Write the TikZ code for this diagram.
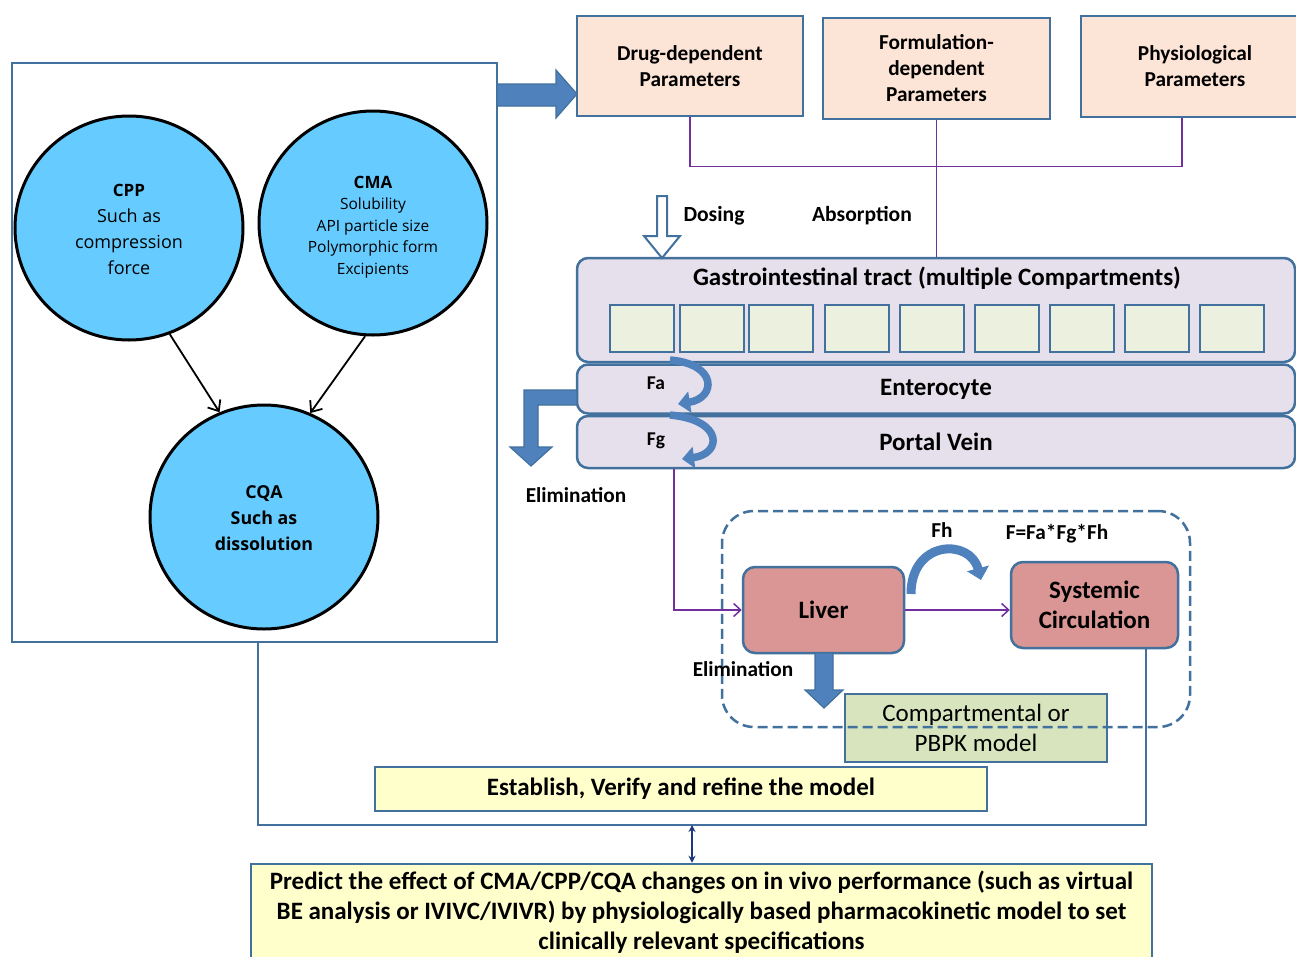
\documentclass[tikz,border=0pt]{standalone}
\usepackage{fontspec}
\setmainfont{Carlito}
\newfontfamily\osans{Open Sans}
\usetikzlibrary{arrows.meta,shapes.geometric}
\definecolor{boxblue}{HTML}{41719C}
\definecolor{peach}{HTML}{FCE4D6}
\definecolor{lav}{HTML}{E5E0EC}
\definecolor{cgreen}{HTML}{EBF1DE}
\definecolor{rose}{HTML}{D99694}
\definecolor{mgreen}{HTML}{D7E4BD}
\definecolor{lyellow}{HTML}{FFFFCC}
\definecolor{cyanc}{HTML}{66CCFF}
\definecolor{arrowblue}{HTML}{4F81BD}
\definecolor{purp}{HTML}{7030A0}
\definecolor{navy}{HTML}{1F3A7A}
\tikzset{
  pbox/.style={draw=boxblue, line width=2.5pt, fill=peach, align=center, font=\bfseries\fontsize{21.3}{26}\selectfont, inner sep=0pt},
  layer/.style={draw=boxblue, line width=2.5pt, fill=lav, rounded corners=11pt, inner sep=0pt},
  comp/.style={draw=boxblue, line width=2pt, fill=cgreen, minimum width=64pt, minimum height=47pt, inner sep=0pt},
  circ/.style={ellipse, draw=black, line width=3pt, fill=cyanc, minimum width=228pt, minimum height=224pt, inner sep=0pt},
  ctext/.style={align=center, inner sep=0pt},
  organ/.style={draw=boxblue, line width=2.5pt, fill=rose, rounded corners=12pt, align=center, inner sep=0pt, font=\bfseries\fontsize{25}{30}\selectfont},
  ybox/.style={draw=boxblue, line width=2.5pt, fill=lyellow, align=center, inner sep=0pt, font=\bfseries\fontsize{25}{30}\selectfont},
  lbl/.style={font=\bfseries\fontsize{21.3}{25}\selectfont, inner sep=0pt},
  pline/.style={draw=purp, line width=1.5pt},
  parrow/.style={draw=purp, line width=1.5pt, -{Straight Barb[length=7pt,width=13pt]}},
  bline/.style={draw=boxblue, line width=1.8pt},
  blockarrow/.style={fill=arrowblue, draw=boxblue, line width=1.2pt},
  curvearrow/.style={draw=arrowblue, line width=7.5pt, -{Triangle[length=12pt,width=21pt]}},
}
\begin{document}
\begin{tikzpicture}[x=1pt,y=-1pt]
\useasboundingbox[fill=white] (0,0) rectangle (1296,956);

% left panel
\node[draw=boxblue, line width=2pt, minimum width=485pt, minimum height=579pt, inner sep=0pt] (leftbox) at (254.5,352.5) {};
\node[circ] (cpp) at (129,228) {};
\node[circ] (cma) at (373,223) {};
\node[circ] (cqa) at (264,517) {};
\node[ctext, font=\osans\bfseries\fontsize{17}{22}\selectfont] (cppt) at (129,190) {CPP};
\node[ctext, font=\osans\fontsize{18}{26}\selectfont] (cppd) at (129,242) {Such as\\compression\\force};
\node[ctext, font=\osans\bfseries\fontsize{17}{22}\selectfont] (cmat) at (373,182) {CMA};
\node[ctext, font=\osans\fontsize{15.5}{21.5}\selectfont] (cmad) at (373,238) {Solubility\\API particle size\\Polymorphic form\\Excipients};
\node[ctext, font=\osans\bfseries\fontsize{17.8}{26}\selectfont] (cqat) at (264,518) {CQA\\Such as\\dissolution};
\draw[line width=1.8pt, -{Straight Barb[length=9pt,width=15pt]}] (cpp.-69) -- (cqa.113);
\draw[line width=1.8pt, -{Straight Barb[length=9pt,width=15pt]}] (cma.-94) -- (cqa.66);

% big arrow
\draw[blockarrow] (497,84) -- (556,84) -- (556,70) -- (577,94) -- (556,118) -- (556,106) -- (497,106) -- cycle;

% parameter boxes
\node[pbox, minimum width=226pt, minimum height=100pt] (drug) at (690,66) {Drug-dependent\\Parameters};
\node[pbox, minimum width=227pt, minimum height=101pt] (form) at (936.5,68.5) {Formulation-\\dependent\\Parameters};
\node[pbox, minimum width=228pt, minimum height=101pt] (phys) at (1195,66.5) {Physiological\\Parameters};
\coordinate (px) at (1182,0);
\draw[pline] (drug.south) -- ++(0,49) -| (phys.south -| px);

% GI layers
\node[layer, minimum width=718pt, minimum height=104pt] (gi) at (936,310) {};
\draw[pline] (form.south) -- (gi.north -| form.south);
\node[lbl, font=\bfseries\fontsize{25}{28}\selectfont] (gititle) at (937,278) {Gastrointestinal tract (multiple Compartments)};
\foreach \i/\cx in {1/641.5,2/712,3/781,4/856.5,5/931.5,6/1006.5,7/1081.5,8/1156.5,9/1232}{
  \node[comp] (c\i) at (\cx,328.5) {};
}
\node[layer, minimum width=718pt, minimum height=49pt, font=\bfseries\fontsize{25}{28}\selectfont] (ent) at (936,389) {Enterocyte};
\node[layer, minimum width=718pt, minimum height=52pt, font=\bfseries\fontsize{25}{28}\selectfont] (portal) at (936,442) {Portal Vein};

% dosing / absorption
\draw[fill=white, draw=boxblue, line width=2pt] (657,196) -- (667,196) -- (667,236) -- (680,236) -- (662,258) -- (644,236) -- (657,236) -- cycle;
\node[lbl, font=\bfseries\fontsize{21.6}{25}\selectfont] (dosing) at (714,216) {Dosing};
\node[lbl, font=\bfseries\fontsize{21.6}{25}\selectfont] (absorp) at (862,216) {Absorption};

% Fa, Fg curved arrows
\draw[curvearrow] (670,360) .. controls (718,364) and (716,398) .. (678,404);
\draw[curvearrow] (670,415) .. controls (724,420) and (722,454) .. (682,459);
\node[lbl, font=\bfseries\fontsize{19.5}{22}\selectfont] (fa) at (656,383) {Fa};
\node[lbl, font=\bfseries\fontsize{19.5}{22}\selectfont] (fg) at (656,441) {Fg};

% elimination from enterocyte
\draw[blockarrow] (577,390) -- (524,390) -- (524,447) -- (510,447) -- (531,466) -- (552,447) -- (538,447) -- (538,405) -- (577,405) -- cycle;
\node[lbl] (elim1) at (576,495) {Elimination};

% liver / systemic circulation
\node[organ, minimum width=161pt, minimum height=86pt] (liver) at (823.5,610) {Liver};
\node[organ, minimum width=167pt, minimum height=86pt] (sys) at (1094.5,605) {Systemic\\Circulation};
\coordinate (pvx) at (674,0);
\draw[parrow] (portal.south -| pvx) |- (liver.west);
\draw[parrow] (liver.east) -- (liver.east -| sys.west);
\draw[draw=arrowblue, line width=9pt, -{Triangle[length=12pt,width=22pt]}] (911,594) .. controls (911,540) and (970,538) .. (981,580);
\node[lbl] (fh) at (942,530) {Fh};
\node[lbl] (ftot) at (1057,534) {F=Fa*Fg*Fh};

% liver elimination
\draw[blockarrow] (815,653) -- (833,653) -- (833,690) -- (843,690) -- (824,708) -- (805,690) -- (815,690) -- cycle;
\node[draw=boxblue, line width=2.5pt, fill=mgreen, minimum width=262pt, minimum height=68pt, inner sep=0pt, align=center, font=\fontsize{25}{30}\selectfont] (cmodel) at (976,728) {Compartmental or\\PBPK model};
\node[draw=boxblue, line width=2.5pt, dash pattern=on 10pt off 5pt, rounded corners=32pt, minimum width=468pt, minimum height=216pt, inner sep=0pt] (dbox) at (956,619) {};
\node[lbl] (elim2) at (743,669) {Elimination};

% bottom
\node[ybox, minimum width=612pt, minimum height=44pt] (estab) at (681,789) {Establish, Verify and refine the model};
\coordinate (j) at (1146,825);
\coordinate (lx) at (258,0);
\draw[bline] (leftbox.south -| lx) |- (j) -- (j |- sys.south);
\node[ybox, minimum width=901pt, minimum height=96pt] (predict) at (701.5,912) {Predict the effect of CMA/CPP/CQA changes on in vivo performance (such as virtual\\BE analysis or IVIVC/IVIVR) by physiologically based pharmacokinetic model to set\\clinically relevant specifications};
\coordinate (dt) at (692,825);
\draw[draw=navy, line width=1.5pt, {Stealth[length=7pt,width=7pt]}-{Stealth[length=7pt,width=7pt]}] (dt) -- (dt |- predict.north);
\end{tikzpicture}
\end{document}
